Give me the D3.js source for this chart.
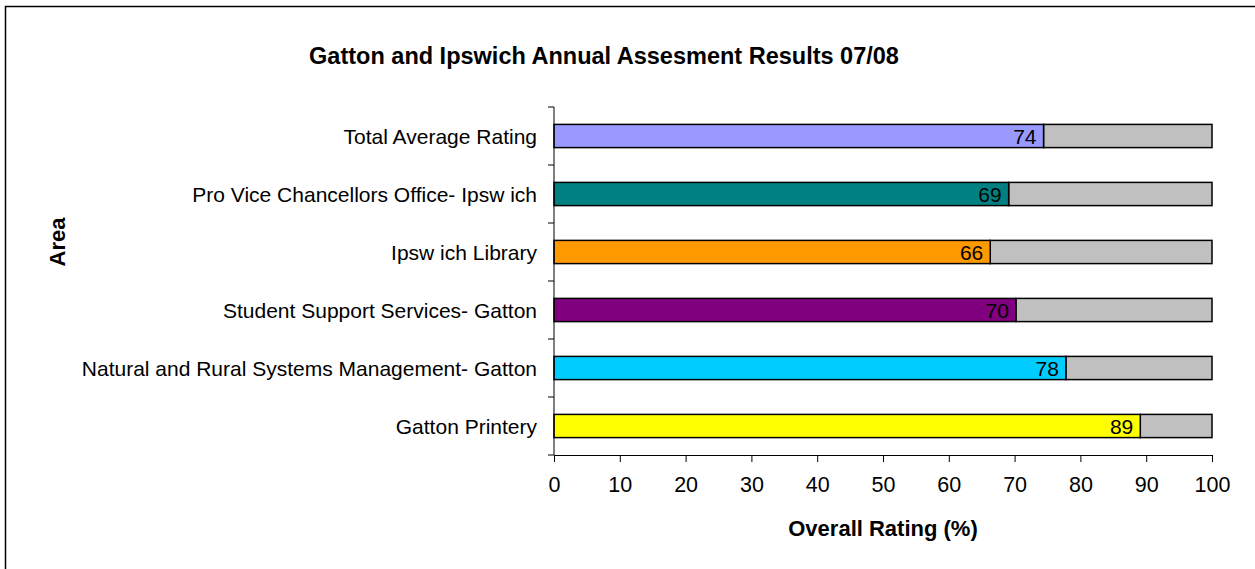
<!DOCTYPE html>
<html>
<head>
<meta charset="utf-8">
<script src="https://cdn.jsdelivr.net/npm/d3@7"></script>
<style>
  body { margin: 0; background: #fff; overflow: hidden; }
  text { font-family: "Liberation Sans", Arial, sans-serif; fill: #000; }
</style>
</head>
<body>
<svg id="chart" width="1255" height="569"></svg>
<script>
// data
const areas = [
  "Total Average Rating",
  "Pro Vice Chancellors Office- Ipsw ich",
  "Ipsw ich Library",
  "Student Support Services- Gatton",
  "Natural and Rural Systems Management- Gatton",
  "Gatton Printery"
];
const ratings = [74.4, 69.1, 66.3, 70.2, 77.8, 89.1];
const barColors = ["#9999ff", "#008080", "#ff9900", "#800080", "#00ccff", "#ffff00"];
const xTicks = [0, 10, 20, 30, 40, 50, 60, 70, 80, 90, 100];

const width = 1255, height = 569;
const margin = { top: 107, right: 43, bottom: 114, left: 554 };
const innerWidth = width - margin.left - margin.right;
const innerHeight = height - margin.top - margin.bottom;

const svg = d3.select("#chart");

// outer frame: only top and left edges are inside the picture
svg.append("path")
  .attr("d", `M5.5,${height} V6.5 H${width}`)
  .attr("fill", "none").attr("stroke", "#000").attr("stroke-width", 1.5);

const g = svg.append("g").attr("transform", `translate(${margin.left},${margin.top})`);

const x = d3.scaleLinear().domain([0, 100]).range([0, innerWidth]);
const y = d3.scaleBand().domain(areas).range([0, innerHeight]).paddingInner(0.6).paddingOuter(0.3);

const rows = areas.map((a, i) => ({ area: a, value: ratings[i], color: barColors[i] }));

// grey remainder to 100
g.selectAll(".rest").data(rows).join("rect")
  .attr("class", "rest")
  .attr("x", d => x(d.value))
  .attr("y", d => y(d.area))
  .attr("width", d => x(100) - x(d.value))
  .attr("height", y.bandwidth())
  .attr("fill", "#c0c0c0")
  .attr("stroke", "#000").attr("stroke-width", 1.5);

g.selectAll(".bar").data(rows).join("rect")
  .attr("class", "bar")
  .attr("x", x(0))
  .attr("y", d => y(d.area))
  .attr("width", d => x(d.value))
  .attr("height", y.bandwidth())
  .attr("fill", d => d.color)
  .attr("stroke", "#000").attr("stroke-width", 1.5);

g.selectAll(".val").data(rows).join("text")
  .attr("class", "val")
  .attr("x", d => x(d.value) - 7)
  .attr("y", d => y(d.area) + y.bandwidth() / 2)
  .attr("dy", "0.36em")
  .attr("text-anchor", "end")
  .attr("font-size", 21)
  .text(d => Math.round(d.value));

// y axis: ticks between categories
const step = innerHeight / areas.length;
const yAxis = g.append("g");
yAxis.append("line").attr("x1", 0).attr("x2", 0).attr("y1", 0).attr("y2", innerHeight)
  .attr("stroke", "#000");
yAxis.selectAll(".yt").data(d3.range(areas.length + 1)).join("line")
  .attr("class", "yt")
  .attr("x1", -6).attr("x2", 0)
  .attr("y1", i => i * step).attr("y2", i => i * step)
  .attr("stroke", "#000");
yAxis.selectAll(".yl").data(rows).join("text")
  .attr("class", "yl")
  .attr("x", -17)
  .attr("y", d => y(d.area) + y.bandwidth() / 2)
  .attr("dy", "0.36em")
  .attr("text-anchor", "end")
  .attr("font-size", 21)
  .text(d => d.area);

// x axis
const xAxis = g.append("g")
  .attr("transform", `translate(0,${innerHeight})`)
  .call(d3.axisBottom(x).tickValues(xTicks).tickSize(7).tickPadding(15).tickSizeOuter(0));
xAxis.select(".domain").attr("stroke", "#000");
xAxis.selectAll(".tick line").attr("stroke", "#000");
xAxis.selectAll(".tick text")
  .attr("font-size", 21.5)
  .attr("font-family", "'Liberation Sans', Arial, sans-serif")
  .attr("fill", "#000");

// titles
svg.append("text")
  .attr("x", 604).attr("y", 64)
  .attr("text-anchor", "middle")
  .attr("font-size", 23.5).attr("font-weight", "bold")
  .text("Gatton and Ipswich Annual Assesment Results 07/08");

svg.append("text")
  .attr("x", 883).attr("y", 536)
  .attr("text-anchor", "middle")
  .attr("font-size", 22).attr("font-weight", "bold")
  .text("Overall Rating (%)");

svg.append("text")
  .attr("transform", "translate(65,242) rotate(-90)")
  .attr("text-anchor", "middle")
  .attr("font-size", 22).attr("font-weight", "bold")
  .text("Area");
</script>
</body>
</html>
